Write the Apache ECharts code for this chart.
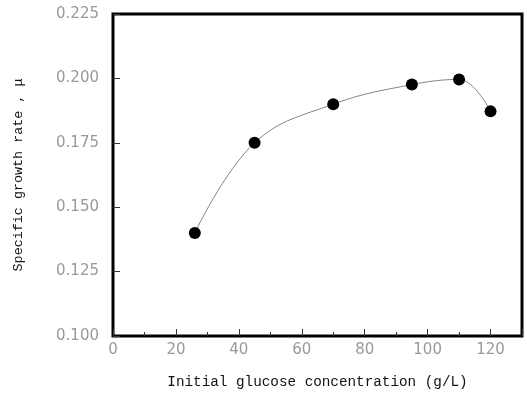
<!DOCTYPE html>
<html>
<head>
<meta charset="utf-8">
<script src="https://cdn.jsdelivr.net/npm/echarts@6/dist/echarts.min.js"></script>
<style>
  html, body { margin: 0; padding: 0; background: #fff; }
  #chart { width: 527px; height: 394px; }
</style>
</head>
<body>
<div id="chart"></div>
<script>
// Initial glucose concentration (g/L)
const glucose = [26, 45, 70, 95, 110, 120];
// Specific growth rate, mu
const growthRate = [0.140, 0.175, 0.190, 0.1976, 0.1996, 0.1872];
// Axis tick settings
const xTicks = { min: 0, max: 130, interval: 20 };
const yTicks = { min: 0.100, max: 0.225, interval: 0.025 };

const points = glucose.map((g, i) => [g, growthRate[i]]);

const chart = echarts.init(document.getElementById('chart'), null, { renderer: 'canvas' });
chart.setOption({
  animation: false,
  backgroundColor: '#ffffff',
  grid: {
    left: 113, right: 5, top: 14, bottom: 57,
    show: true, borderColor: '#000', borderWidth: 3, backgroundColor: 'transparent'
  },
  xAxis: {
    type: 'value',
    min: xTicks.min, max: xTicks.max, interval: xTicks.interval,
    name: 'Initial glucose concentration (g/L)',
    nameLocation: 'middle', nameGap: 39,
    nameTextStyle: { fontFamily: 'Liberation Mono', fontSize: 14.3, color: '#111' },
    axisLine: { show: false },
    axisTick: { show: true, inside: true, length: 7, lineStyle: { color: '#333', width: 1 } },
    minorTick: { show: true, splitNumber: 2, length: 4, lineStyle: { color: '#333', width: 1 } },
    axisLabel: {
      margin: 7, fontFamily: 'DejaVu Sans', fontSize: 15, color: '#999',
      showMaxLabel: false
    },
    splitLine: { show: false }
  },
  yAxis: {
    type: 'value',
    min: yTicks.min, max: yTicks.max, interval: yTicks.interval,
    name: 'Specific growth rate , \u03bc',
    nameLocation: 'middle', nameGap: 88, nameRotate: 90,
    nameTextStyle: { fontFamily: 'Liberation Mono', fontSize: 13.4, color: '#111' },
    axisLine: { show: false },
    axisTick: { show: true, inside: true, length: 7, lineStyle: { color: '#333', width: 1 } },
    axisLabel: {
      margin: 14, fontFamily: 'DejaVu Sans', fontSize: 15, color: '#999',
      formatter: v => v.toFixed(3)
    },
    splitLine: { show: false }
  },
  series: [{
    type: 'line',
    data: points,
    smooth: 0.4,
    symbol: 'circle',
    symbolSize: 12,
    itemStyle: { color: '#000' },
    lineStyle: { color: '#666', width: 0.8 },
    z: 3
  }]
});
</script>
</body>
</html>
